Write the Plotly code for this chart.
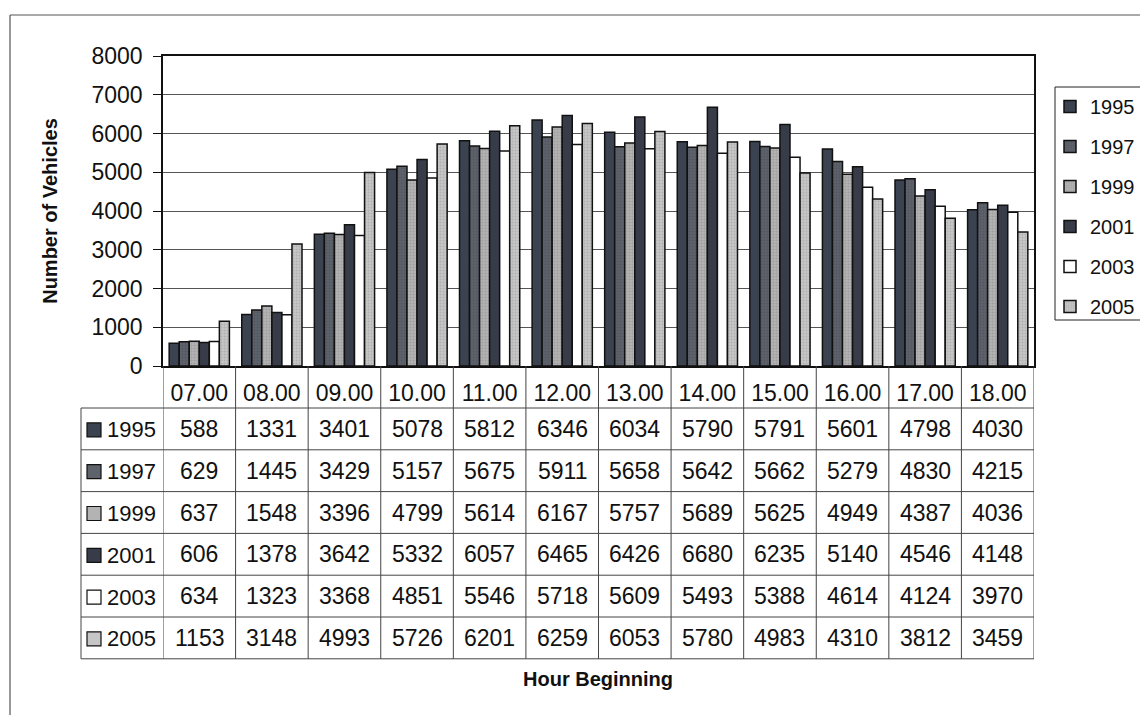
import plotly.graph_objects as go

# Hourly traffic counts by survey year
hours = ["07.00", "08.00", "09.00", "10.00", "11.00", "12.00",
         "13.00", "14.00", "15.00", "16.00", "17.00", "18.00"]
years = ["1995", "1997", "1999", "2001", "2003", "2005"]

v1995 = [588, 1331, 3401, 5078, 5812, 6346, 6034, 5790, 5791, 5601, 4798, 4030]
v1997 = [629, 1445, 3429, 5157, 5675, 5911, 5658, 5642, 5662, 5279, 4830, 4215]
v1999 = [637, 1548, 3396, 4799, 5614, 6167, 5757, 5689, 5625, 4949, 4387, 4036]
v2001 = [606, 1378, 3642, 5332, 6057, 6465, 6426, 6680, 6235, 5140, 4546, 4148]
v2003 = [634, 1323, 3368, 4851, 5546, 5718, 5609, 5493, 5388, 4614, 4124, 3970]
v2005 = [1153, 3148, 4993, 5726, 6201, 6259, 6053, 5780, 4983, 4310, 3812, 3459]

series = [v1995, v1997, v1999, v2001, v2003, v2005]
fills = ["#3b4250", "#5e626b", "#b3b3b3", "#373c48", "#ffffff", "#c6c6c6"]
dots = [None, "#474a52", "#8a8a8a", None, None, "#9a9a9a"]

FONT = "Liberation Sans, Arial, sans-serif"
TXT = 23

# page geometry (pixels)
W, H = 1140, 715
L, R, T, B = 163, 106, 56, 349
PW, PH = W - L - R, H - T - B


def py(p):
    """pixel row -> paper y"""
    return (H - B - p) / PH


def px(p):
    """pixel column -> paper x"""
    return (p - L) / PW


fig = go.Figure()
for name, vals, fc, dc in zip(years, series, fills, dots):
    marker = dict(color=fc, line=dict(color="#111111", width=1.5))
    if dc:
        marker["pattern"] = dict(shape=".", fgcolor=dc, bgcolor=fc, size=3, solidity=0.35)
    fig.add_trace(go.Bar(x=hours, y=vals, name=name, marker=marker,
                         legendgroup=name))

shapes = []
annotations = []

# data table below the axis
cat_top = H - B
row_top = 408
row_h = 41.8
table_left = 81
line_style = dict(color="#444444", width=1)

# vertical cell dividers between hours
for i in range(len(hours) + 1):
    shapes.append(dict(type="line", xref="x", yref="paper",
                       x0=i - 0.5, x1=i - 0.5, y0=py(cat_top), y1=py(row_top + 6 * row_h),
                       line=line_style))
# legend-key column divider
shapes.append(dict(type="line", xref="paper", yref="paper",
                   x0=px(table_left), x1=px(table_left),
                   y0=py(row_top), y1=py(row_top + 6 * row_h), line=line_style))
# horizontal row dividers
for r in range(7):
    yy = py(row_top + r * row_h)
    shapes.append(dict(type="line", xref="paper", yref="paper",
                       x0=px(table_left), x1=1, y0=yy, y1=yy, line=line_style))

for r, (name, vals, fc) in enumerate(zip(years, series, fills)):
    yc = row_top + (r + 0.5) * row_h
    # key swatch
    shapes.append(dict(type="rect", xref="paper", yref="paper",
                       x0=px(87), x1=px(101), y0=py(yc - 6), y1=py(yc + 8),
                       fillcolor=fc, line=dict(color="#111111", width=1.2)))
    annotations.append(dict(x=px(105), y=py(yc + 1), xref="paper", yref="paper",
                            text=name, showarrow=False, xanchor="left", yanchor="middle",
                            font=dict(size=22, family=FONT, color="#111111")))
    for i, v in enumerate(vals):
        annotations.append(dict(x=i, y=py(yc), xref="x", yref="paper",
                                text=str(v), showarrow=False, xanchor="center",
                                yanchor="middle",
                                font=dict(size=TXT, family=FONT, color="#111111")))

# x axis title
annotations.append(dict(x=px(598), y=py(679), xref="paper", yref="paper",
                        text="<b>Hour Beginning</b>", showarrow=False,
                        xanchor="center", yanchor="middle",
                        font=dict(size=20, family=FONT, color="#111111")))

# legend frame
shapes.append(dict(type="rect", xref="paper", yref="paper",
                   x0=px(1055), x1=px(W + 10), y0=py(87), y1=py(320),
                   line=dict(color="#222222", width=1), layer="below"))

# outer chart frame (top and left edges)
shapes.append(dict(type="line", xref="paper", yref="paper",
                   x0=px(10), x1=px(W), y0=py(15), y1=py(15),
                   line=dict(color="#555555", width=1.2)))
shapes.append(dict(type="line", xref="paper", yref="paper",
                   x0=px(10), x1=px(10), y0=py(15), y1=py(H),
                   line=dict(color="#555555", width=1.2)))

fig.update_layout(
    width=W, height=H,
    margin=dict(l=L, r=R, t=T, b=B, autoexpand=False),
    paper_bgcolor="white", plot_bgcolor="white",
    barmode="group", bargap=0.17, bargroupgap=0,
    font=dict(family=FONT, size=22, color="#111111"),
    shapes=shapes, annotations=annotations,
    legend=dict(x=px(1050), y=py(87), xanchor="left", yanchor="top",
                borderwidth=0, bgcolor="rgba(0,0,0,0)",
                font=dict(size=20, family=FONT, color="#111111"),
                tracegroupgap=11, itemwidth=30),
    xaxis=dict(type="category", range=[-0.5, len(hours) - 0.5],
               showline=True, linecolor="#111111", linewidth=1.5,
               mirror=True, ticks="", showgrid=False, ticklabelstandoff=6,
               tickangle=0,
               tickfont=dict(size=TXT, family=FONT, color="#111111")),
    yaxis=dict(range=[0, 8000], dtick=1000, showline=True, linecolor="#111111",
               linewidth=1.5, mirror=True, ticks="outside", ticklen=8,
               tickcolor="#111111", showgrid=True, gridcolor="#555555", gridwidth=1,
               ticklabelstandoff=6,
               tickfont=dict(size=TXT, family=FONT, color="#111111")),
)
fig.update_yaxes(title=dict(text="<b>Number of Vehicles</b>", standoff=28,
                            font=dict(size=20, family=FONT, color="#111111")))

fig.write_html("out.html")
